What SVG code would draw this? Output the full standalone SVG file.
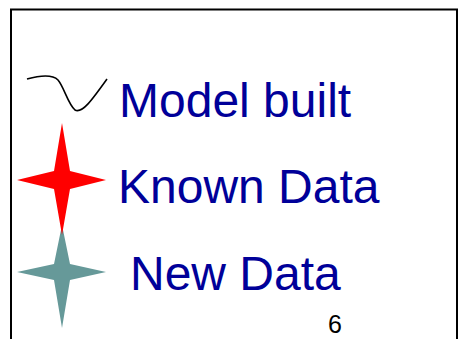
<svg xmlns="http://www.w3.org/2000/svg" width="460" height="339" viewBox="0 0 460 339">
<style>
.lbl{font-family:"Liberation Sans",Arial,sans-serif;font-size:48px;fill:#000099}
.num{font-family:"Liberation Sans",Arial,sans-serif;font-size:25px;fill:#000}
</style>
<rect width="460" height="339" fill="#fff"/>
<rect x="11" y="9.5" width="446" height="340" fill="none" stroke="#000" stroke-width="2"/>
<g id="model">
<path d="M27,79 C38,76 52,74 58,80 C64,87 68,104 75,110 C82,114 92,100 107,79" fill="none" stroke="#000" stroke-width="1.6"/>
<text class="lbl" x="119" y="117">Model built</text>
</g>
<g id="new">
<polygon points="62,225 70,264 106,272 70,280 62,328 54,280 17,272 54,264" fill="#669999"/>
<text class="lbl" x="130" y="290">New Data</text>
</g>
<g id="known">
<polygon points="62,123 70,171 106,180 70,189 62,235 54,189 17,180 54,171" fill="#ff0000"/>
<text class="lbl" x="118" y="203">Known Data</text>
</g>
<text class="num" x="328" y="333">6</text>
</svg>
